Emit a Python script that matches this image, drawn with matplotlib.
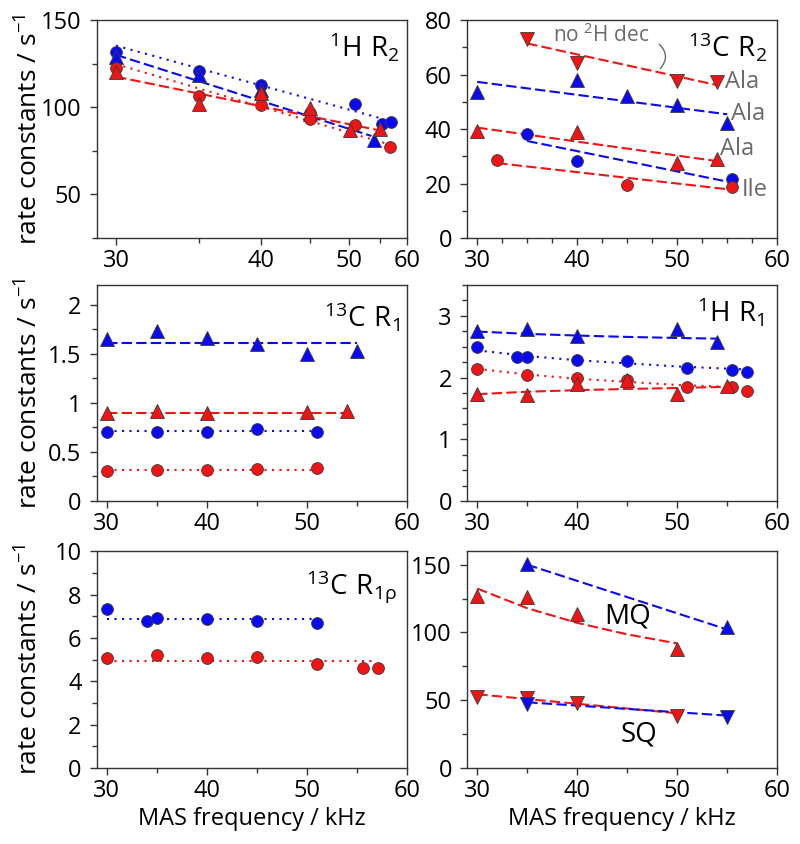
import numpy as np
import matplotlib
matplotlib.use("Agg")
import matplotlib.pyplot as plt
from matplotlib.ticker import MultipleLocator, FixedLocator

plt.rcParams['font.family'] = ['Open Sans', 'DejaVu Sans']
plt.rcParams['font.size'] = 17
plt.rcParams['axes.linewidth'] = 1.0
plt.rcParams['axes.edgecolor'] = '#333333'

BLUE = '#0a0af2'
RED = '#f01414'
GREY = '#6a6a6a'

# ---- panel a : 1H R2 (x on 1/x scale) ----
a_bc_x = [30, 35, 40, 45, 50.9, 55.3, 57]
a_bc_y = [131.8, 120.5, 112.5, 96.5, 101.9, 90.6, 91.6]
a_bt_x = [30, 35, 40, 45, 53.9]
a_bt_y = [129, 118.5, 110, 96, 81.4]
a_rc_x = [30, 35, 40, 45, 50.9, 56.8]
a_rc_y = [122.2, 106.3, 101.3, 93.5, 89.7, 77]
a_rt_x = [30, 35, 40, 45, 50.2, 54.9]
a_rt_y = [120.1, 101.9, 108.2, 99.6, 87.2, 87.5]
a_fit_bc = ([30, 55], [135.3, 93.7])
a_fit_bt = ([30, 53.5], [130, 83.5])
a_fit_rc = ([30, 57], [124.7, 78.3])
a_fit_rt = ([30, 55], [117.5, 86.6])

# ---- panel b : 13C R2 ----
b_rd_x = [35, 40, 50, 54]
b_rd_y = [72.9, 64.3, 57.7, 57.3]
b_bt_x = [30, 40, 45, 50, 55]
b_bt_y = [53.6, 57.9, 52.1, 48.7, 42.2]
b_rt_x = [30, 40, 50, 54]
b_rt_y = [39.1, 38.9, 27.5, 29.1]
b_bc_x = [35, 40, 55.5]
b_bc_y = [38.3, 28.1, 21.5]
b_rc_x = [32, 45, 55.5]
b_rc_y = [28.8, 19.3, 18.9]
b_fit_rd = ([35, 54], [71.4, 56.1])
b_fit_bt = ([30, 55], [57.3, 45.4])
b_fit_rt = ([30, 54], [40.5, 28.2])
b_fit_bc = ([35, 55], [35.6, 20.7])
b_fit_rc = ([32, 55.5], [27.5, 17.7])

# ---- panel c : 13C R1 ----
c_bt_x = [30, 35, 40, 45, 50, 55]
c_bt_y = [1.645, 1.73, 1.66, 1.60, 1.50, 1.53]
c_rt_x = [30, 35, 40, 50, 54]
c_rt_y = [0.895, 0.92, 0.895, 0.91, 0.92]
c_bc_x = [30, 35, 40, 45, 51]
c_bc_y = [0.706, 0.70, 0.70, 0.733, 0.706]
c_rc_x = [30, 35, 40, 45, 51]
c_rc_y = [0.304, 0.311, 0.311, 0.328, 0.334]
c_fit_bt = ([30, 55], [1.605, 1.605])
c_fit_rt = ([30, 54], [0.90, 0.90])
c_fit_bc = ([30, 51], [0.71, 0.71])
c_fit_rc = ([30, 51], [0.315, 0.315])

# ---- panel d : 1H R1 ----
d_bt_x = [30, 35, 40, 50, 54]
d_bt_y = [2.75, 2.79, 2.68, 2.78, 2.58]
d_bc_x = [30, 34, 35, 40, 45, 51, 55.5, 57]
d_bc_y = [2.49, 2.34, 2.34, 2.28, 2.27, 2.15, 2.13, 2.09]
d_rc_x = [30, 35, 40, 45, 51, 55.5, 57]
d_rc_y = [2.14, 2.04, 2.0, 1.96, 1.85, 1.85, 1.78]
d_rt_x = [30, 35, 40, 45, 50, 55]
d_rt_y = [1.74, 1.71, 1.90, 1.96, 1.73, 1.86]
d_fit_bt = ([30, 35, 40, 45, 50, 54], [2.745, 2.708, 2.68, 2.658, 2.641, 2.63])
d_fit_bc = ([30, 35, 40, 45, 50, 57], [2.44, 2.35, 2.28, 2.23, 2.18, 2.13])
d_fit_rc = ([30, 35, 40, 45, 50, 55], [2.14, 2.05, 1.98, 1.93, 1.88, 1.85])
d_fit_rt = ([30, 35, 40, 45, 50, 55], [1.73, 1.77, 1.795, 1.815, 1.83, 1.85])

# ---- panel e : 13C R1rho ----
e_bc_x = [30, 34, 35, 40, 45, 51]
e_bc_y = [7.34, 6.80, 6.91, 6.88, 6.76, 6.68]
e_rc_x = [30, 35, 40, 45, 51, 55.6, 57.1]
e_rc_y = [5.07, 5.19, 5.08, 5.12, 4.78, 4.62, 4.62]
e_fit_bc = ([30, 51], [6.88, 6.88])
e_fit_rc = ([30, 57], [4.92, 4.92])

# ---- panel f : MQ / SQ ----
f_bmq_x = [35, 55]
f_bmq_y = [150.7, 104.2]
f_rmq_x = [30, 35, 40, 50]
f_rmq_y = [127, 126.5, 113.5, 87.7]
f_rsq_x = [30, 35, 40, 50]
f_rsq_y = [52.7, 51.5, 47.8, 38.7]
f_bsq_x = [35, 55]
f_bsq_y = [47.3, 37.5]
f_fit_bmq = ([35, 55], [150, 102.2])
f_fit_rmq = ([30, 35, 40, 45, 50], [132.4, 117.9, 107.1, 98.6, 91.9])
f_fit_rsq = ([30, 50], [54.4, 40.4])
f_fit_bsq = ([35, 55], [48.5, 38.7])

DASH = (0, (5, 2))
DOT = (0, (1, 2.6))
YLABEL = r'rate constants / s$\mathregular{^{-1}}$'
XLABEL = 'MAS frequency / kHz'


def pts(ax, x, y, color, marker):
    size = 8.5 if marker == 'o' else 9.5
    ax.plot(x, y, ls='none', marker=marker, ms=size, mfc=color,
            mec='#3a3a3a', mew=0.6, zorder=3, clip_on=False)


def fit(ax, xy, color, ls):
    ax.plot(xy[0], xy[1], color=color, ls=ls, lw=1.5, zorder=2)


def style(ax, xlim, ylim, ymajor, yminor, xminor=5):
    ax.set_xlim(*xlim)
    ax.set_ylim(*ylim)
    if ax.get_xscale() == 'linear':
        ax.xaxis.set_major_locator(MultipleLocator(10))
        ax.xaxis.set_minor_locator(MultipleLocator(xminor))
    ax.yaxis.set_major_locator(MultipleLocator(ymajor))
    ax.yaxis.set_minor_locator(MultipleLocator(yminor))
    ax.tick_params(which='major', direction='out', length=5, width=1,
                   labelsize=17, color='#333333')
    ax.tick_params(axis='x', which='major', pad=3)
    ax.tick_params(axis='y', which='major', pad=6)
    ax.tick_params(which='minor', direction='out', length=3.5, width=1,
                   color='#333333')


def label(ax, x, y, s, size=20):
    ax.text(x, y, s, transform=ax.transAxes, ha='right', va='center',
            fontsize=size)


def ylab(ax):
    ax.set_ylabel(YLABEL, fontsize=19)
    ax.yaxis.set_label_coords(-0.172, 0.5)


def xlab(ax):
    ax.set_xlabel(XLABEL, fontsize=17, labelpad=3)


fig = plt.figure(figsize=(8, 8.44), dpi=100)
W = 0.3875
LX = [0.121, 0.584]
ROWS = [(0.718, 0.2583), (0.4064, 0.256), (0.090, 0.257)]

# panel a
ax = fig.add_axes([LX[0], ROWS[0][0], W, ROWS[0][1]])
with np.errstate(divide='ignore'):
    ax.set_xscale('function', functions=(lambda v: -1.0 / np.asarray(v, float),
                                         lambda v: -1.0 / np.asarray(v, float)))
fit(ax, a_fit_bc, BLUE, DOT)
fit(ax, a_fit_bt, BLUE, DASH)
fit(ax, a_fit_rc, RED, DOT)
fit(ax, a_fit_rt, RED, DASH)
pts(ax, a_bc_x, a_bc_y, BLUE, 'o')
pts(ax, a_bt_x, a_bt_y, BLUE, '^')
pts(ax, a_rc_x, a_rc_y, RED, 'o')
pts(ax, a_rt_x, a_rt_y, RED, '^')
style(ax, (29.04, 60), (25, 150), 50, 25)
ax.xaxis.set_major_locator(FixedLocator([30, 40, 50, 60]))
ax.xaxis.set_minor_locator(FixedLocator([35, 45, 55]))
ax.set_xticklabels(['30', '40', '50', '60'])
ylab(ax)
label(ax, 0.977, 0.876, r'$\mathregular{^{1}H\ R_{2}}$')

# panel b
ax = fig.add_axes([LX[1], ROWS[0][0], W, ROWS[0][1]])
fit(ax, b_fit_rd, RED, DASH)
fit(ax, b_fit_bt, BLUE, DASH)
fit(ax, b_fit_rt, RED, DASH)
fit(ax, b_fit_bc, BLUE, DASH)
fit(ax, b_fit_rc, RED, DASH)
pts(ax, b_rd_x, b_rd_y, RED, 'v')
pts(ax, b_bt_x, b_bt_y, BLUE, '^')
pts(ax, b_rt_x, b_rt_y, RED, '^')
pts(ax, b_bc_x, b_bc_y, BLUE, 'o')
pts(ax, b_rc_x, b_rc_y, RED, 'o')
style(ax, (29, 60), (0, 80), 20, 10, xminor=2.5)
label(ax, 0.968, 0.876, r'$\mathregular{^{13}C\ R_{2}}$')
ax.text(42.4, 74.5, r'no $\mathregular{^{2}}$H dec', color=GREY, fontsize=15,
        ha='center', va='center')
ax.annotate('', xy=(48.1, 61.4), xytext=(48.0, 71.8),
            arrowprops=dict(arrowstyle='-', color=GREY, lw=1,
                            connectionstyle='arc3,rad=-0.55'))
for (tx, ty, s) in [(54.8, 57.3, 'Ala'), (55.4, 45.6, 'Ala'),
                    (54.3, 32.7, 'Ala'), (56.5, 17.7, 'Ile')]:
    ax.text(tx, ty, s, color=GREY, fontsize=17, ha='left', va='center')

# panel c
ax = fig.add_axes([LX[0], ROWS[1][0], W, ROWS[1][1]])
fit(ax, c_fit_bt, BLUE, DASH)
fit(ax, c_fit_rt, RED, DASH)
fit(ax, c_fit_bc, BLUE, DOT)
fit(ax, c_fit_rc, RED, DOT)
pts(ax, c_bt_x, c_bt_y, BLUE, '^')
pts(ax, c_rt_x, c_rt_y, RED, '^')
pts(ax, c_bc_x, c_bc_y, BLUE, 'o')
pts(ax, c_rc_x, c_rc_y, RED, 'o')
style(ax, (29, 60), (0, 2.2), 0.5, 0.25)
ax.set_yticks([0, 0.5, 1, 1.5, 2])
ax.set_yticklabels(['0', '0.5', '1', '1.5', '2'])
ylab(ax)
label(ax, 0.977, 0.852, r'$\mathregular{^{13}C\ R_{1}}$')

# panel d
ax = fig.add_axes([LX[1], ROWS[1][0], W, ROWS[1][1]])
fit(ax, d_fit_bt, BLUE, DASH)
fit(ax, d_fit_bc, BLUE, DOT)
fit(ax, d_fit_rc, RED, DOT)
fit(ax, d_fit_rt, RED, DASH)
pts(ax, d_bt_x, d_bt_y, BLUE, '^')
pts(ax, d_bc_x, d_bc_y, BLUE, 'o')
pts(ax, d_rc_x, d_rc_y, RED, 'o')
pts(ax, d_rt_x, d_rt_y, RED, '^')
style(ax, (29, 60), (0, 3.5), 1, 0.25)
label(ax, 0.961, 0.876, r'$\mathregular{^{1}H\ R_{1}}$')

# panel e
ax = fig.add_axes([LX[0], ROWS[2][0], W, ROWS[2][1]])
fit(ax, e_fit_bc, BLUE, DOT)
fit(ax, e_fit_rc, RED, DOT)
pts(ax, e_bc_x, e_bc_y, BLUE, 'o')
pts(ax, e_rc_x, e_rc_y, RED, 'o')
style(ax, (29, 60), (0, 10), 2, 1)
ylab(ax)
xlab(ax)
label(ax, 0.968, 0.836, r'$\mathregular{^{13}C\ R_{1\rho}}$')

# panel f
ax = fig.add_axes([LX[1], ROWS[2][0], W, ROWS[2][1]])
fit(ax, f_fit_bmq, BLUE, DASH)
fit(ax, f_fit_rmq, RED, DASH)
fit(ax, f_fit_rsq, RED, DASH)
fit(ax, f_fit_bsq, BLUE, DASH)
pts(ax, f_bmq_x, f_bmq_y, BLUE, '^')
pts(ax, f_rmq_x, f_rmq_y, RED, '^')
pts(ax, f_rsq_x, f_rsq_y, RED, 'v')
pts(ax, f_bsq_x, f_bsq_y, BLUE, 'v')
style(ax, (29, 60), (0, 160), 50, 25)
xlab(ax)
ax.text(45, 112, 'MQ', fontsize=20, ha='center', va='center')
ax.text(46.2, 24.5, 'SQ', fontsize=20, ha='center', va='center')

fig.savefig('out.png', dpi=100)
